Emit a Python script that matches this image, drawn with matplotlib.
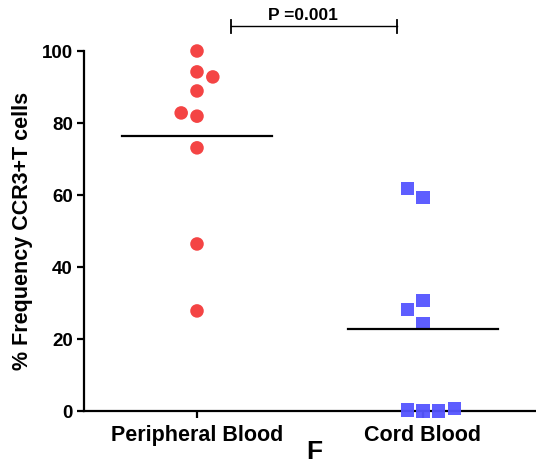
import matplotlib
matplotlib.use("Agg")
import matplotlib.pyplot as plt
import numpy as np

categories = ["Peripheral Blood", "Cord Blood"]
pb_values = [100, 94.2, 92.8, 88.9, 82.8, 81.9, 73.1, 46.4, 27.8]
pb_offsets = [0, 0, 0.07, 0, -0.07, 0, 0, 0, 0]
cb_values = [61.9, 59.2, 28.3, 30.8, 24.4, 0.3, 0.0, 0.0, 0.6]
cb_offsets = [-0.07, 0, -0.07, 0, 0, -0.07, 0, 0.07, 0.14]
p_text = "P =0.001"
panel_label = "F"
yticks = [0, 20, 40, 60, 80, 100]

plt.rcParams['font.family'] = ['Liberation Sans', 'DejaVu Sans']
plt.rcParams['font.weight'] = 'bold'

fig = plt.figure(figsize=(5.36, 4.70), dpi=100)
ax = fig.add_axes([84/536, 59/470, 1 - 84/536, 360/470])

ax.scatter(np.array(pb_offsets) + 0, pb_values, s=95, marker='o', color='#F44444',
           edgecolors='none', zorder=3, clip_on=False)
ax.scatter(np.array(cb_offsets) + 1, cb_values, s=90, marker='s', color='#5555FF',
           edgecolors='none', zorder=3, clip_on=False, alpha=0.95)

means = [np.mean(pb_values), np.mean(cb_values)]
for i, m in enumerate(means):
    ax.plot([i - 0.333, i + 0.333], [m, m], color='black', lw=1.6, zorder=4)

ax.set_xlim(-0.5, 1.5)
ax.set_ylim(0, 100)
ax.set_xticks([0, 1])
ax.set_xticklabels(categories, fontsize=15.5, fontweight='bold')
ax.set_yticks(yticks)
ax.set_yticklabels([str(t) for t in yticks], fontsize=13.5, fontweight='bold')
ax.set_ylabel("% Frequency CCR3+T cells", fontsize=15.5, fontweight='bold', labelpad=6)

for s in ['top', 'right']:
    ax.spines[s].set_visible(False)
for s in ['left', 'bottom']:
    ax.spines[s].set_linewidth(1.6)
ax.tick_params(axis='both', width=1.6, length=5, direction='out')
ax.tick_params(axis='x', pad=5)
ax.tick_params(axis='y', pad=3)

fig.text(314/536, 1 - 452/470, panel_label, ha='center', va='center',
         fontsize=19, fontweight='bold')

# significance bracket
yb = 106.9
x1, x2 = 0.15, 0.885
ax.plot([x1, x2], [yb, yb], color='black', lw=1.0, clip_on=False)
ax.plot([x1, x1], [yb - 1.8, yb + 1.8], color='black', lw=1.3, clip_on=False)
ax.plot([x2, x2], [yb - 1.8, yb + 1.8], color='black', lw=1.3, clip_on=False)
ax.text(0.47, yb + 1.7, p_text, ha='center', va='baseline', fontsize=12.5,
        fontweight='bold', clip_on=False)

fig.savefig("out.png", dpi=100)
